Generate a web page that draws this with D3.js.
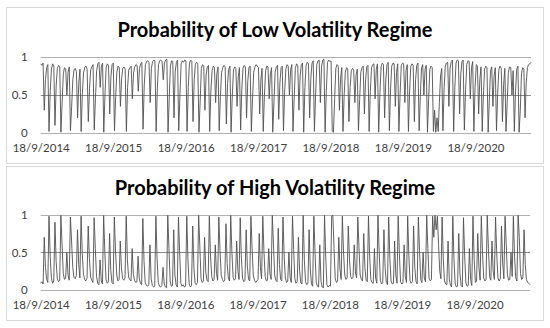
<!DOCTYPE html>
<html><head><meta charset="utf-8">
<script src="https://cdn.jsdelivr.net/npm/d3@7"></script>
<style>body{margin:0;background:#fff}svg{display:block}</style>
</head><body>
<script>
const startDate = "2014-09-18";
const stepDays = 6;
const titles = ["Probability of Low Volatility Regime", "Probability of High Volatility Regime"];
const xTickLabels = ["18/9/2014","18/9/2015","18/9/2016","18/9/2017","18/9/2018","18/9/2019","18/9/2020"];
const yTicks = [0, 0.5, 1];
const lowProb = [
.91,.89,.92,.30,.70,.86,.90,.02,.55,.84,.91,.88,.10,.62,.85,.89,.87,.01,.40,.78,.86,.84,.50,.80,.87,.03,.35,.70,.83,.85,.81,.20,.66,.84,.02,.52,.79,.86,.88,.84,.15,.58,.83,.87,.90,.04,.45,.82,.91,.93,.60,.88,.92,.01,.50,.86,.91,.89,.25,.74,.90,
.92,.03,.48,.80,.88,.86,.35,.72,.85,.87,.84,.02,.60,.83,.86,.88,.45,.79,.87,.90,.89,.55,.85,.91,.93,.05,.62,.90,.94,.95,.93,.40,.85,.94,.96,.95,.02,.58,.90,.95,.96,.94,.70,.92,.96,.97,.01,.45,.88,.95,.94,.20,.80,.93,.96,.03,.50,.91,.95,.93,.96,
.95,.02,.60,.92,.96,.94,.15,.70,.91,.93,.90,.01,.42,.85,.90,.88,.30,.76,.87,.89,.02,.55,.82,.88,.86,.40,.78,.87,.03,.48,.80,.86,.89,.87,.12,.65,.84,.88,.01,.50,.83,.87,.85,.35,.74,.86,.04,.58,.85,.89,.87,.20,.68,.86,.88,.02,.45,.80,.87,.90,.88,
.86,.25,.70,.85,.02,.50,.82,.88,.87,.45,.78,.86,.01,.40,.80,.87,.89,.18,.66,.86,.88,.03,.55,.84,.90,.88,.50,.83,.90,.02,.46,.85,.91,.89,.30,.75,.90,.92,.01,.60,.89,.93,.91,.20,.72,.92,.95,.02,.50,.90,.95,.96,.40,.88,.96,.97,.01,.55,.93,.96,.94,
.95,.02,.01,.45,.85,.90,.88,.30,.72,.86,.02,.50,.80,.86,.84,.15,.60,.82,.85,.83,.40,.76,.84,.03,.44,.80,.86,.88,.25,.70,.87,.89,.02,.55,.86,.90,.91,.45,.84,.91,.01,.50,.87,.92,.90,.20,.70,.90,.93,.03,.58,.88,.92,.91,.35,.80,.91,.02,.52,.89,.92,
.91,.40,.82,.90,.02,.55,.88,.91,.89,.15,.70,.89,.92,.03,.48,.86,.90,.50,.84,.89,.01,.45,.84,.88,.86,.02,.30,.01,.20,.02,.40,.75,.85,.03,.60,.88,.92,.93,.35,.85,.94,.96,.02,.60,.92,.96,.95,.25,.78,.94,.96,.04,.55,.90,.95,.94,.45,.86,.94,.02,.60,
.90,.88,.25,.70,.87,.02,.50,.84,.88,.86,.01,.45,.82,.87,.35,.75,.86,.03,.52,.84,.88,.85,.15,.64,.85,.02,.40,.80,.87,.86,.50,.82,.02,.55,.84,.88,.01,.30,.78,.86,.84,.20,.66,.86,.90,.91,.93
];
const highProb = [
.09,.11,.08,.70,.30,.14,.10,.98,.45,.16,.09,.12,.90,.38,.15,.11,.13,.99,.60,.22,.14,.16,.50,.20,.13,.97,.65,.30,.17,.15,.19,.80,.34,.16,.98,.48,.21,.14,.12,.16,.85,.42,.17,.13,.10,.96,.55,.18,.09,.07,.40,.12,.08,.99,.50,.14,.09,.11,.75,.26,.10,
.08,.97,.52,.20,.12,.14,.65,.28,.15,.13,.16,.98,.40,.17,.14,.12,.55,.21,.13,.10,.11,.45,.15,.09,.07,.95,.38,.10,.06,.05,.07,.60,.15,.06,.04,.05,.98,.42,.10,.05,.04,.06,.30,.08,.04,.03,.99,.55,.12,.05,.06,.80,.20,.07,.04,.97,.50,.09,.05,.07,.04,
.05,.98,.40,.08,.04,.06,.85,.30,.09,.07,.10,.99,.58,.15,.10,.12,.70,.24,.13,.11,.98,.45,.18,.12,.14,.60,.22,.13,.97,.52,.20,.14,.11,.13,.88,.35,.16,.12,.99,.50,.17,.13,.15,.65,.26,.14,.96,.42,.15,.11,.13,.80,.32,.14,.12,.98,.55,.20,.13,.10,.12,
.14,.75,.30,.15,.98,.50,.18,.12,.13,.55,.22,.14,.99,.60,.20,.13,.11,.82,.34,.14,.12,.97,.45,.16,.10,.12,.50,.17,.10,.98,.54,.15,.09,.11,.70,.25,.10,.08,.99,.40,.11,.07,.09,.80,.28,.08,.05,.98,.50,.10,.05,.04,.60,.12,.04,.03,.99,.45,.07,.04,.06,
.05,.98,.99,.55,.15,.10,.12,.70,.28,.14,.98,.50,.20,.14,.16,.85,.40,.18,.15,.17,.60,.24,.16,.97,.56,.20,.14,.12,.75,.30,.13,.11,.98,.45,.14,.10,.09,.55,.16,.09,.99,.50,.13,.08,.10,.80,.30,.10,.07,.97,.42,.12,.08,.09,.65,.20,.09,.98,.48,.11,.08,
.09,.60,.18,.10,.98,.45,.12,.09,.11,.85,.30,.11,.08,.97,.52,.14,.10,.50,.16,.11,.99,.55,.16,.12,.14,.98,.70,.99,.80,.98,.60,.25,.15,.97,.40,.12,.08,.07,.65,.15,.06,.04,.98,.40,.08,.04,.05,.75,.22,.06,.04,.96,.45,.10,.05,.06,.55,.14,.06,.98,.40,
.10,.12,.75,.30,.13,.98,.50,.16,.12,.14,.99,.55,.18,.13,.65,.25,.14,.97,.48,.16,.12,.15,.85,.36,.15,.98,.60,.20,.13,.14,.50,.18,.98,.45,.16,.12,.99,.70,.22,.14,.16,.80,.34,.14,.10,.09,.07
];

const W = 550, H = 328;
const svg = d3.select("body").append("svg").attr("width", W).attr("height", H);
svg.append("rect").attr("width", W).attr("height", H).attr("fill", "#fff");

const parseLabel = d3.timeParse("%d/%m/%Y");
const t0 = d3.timeParse("%Y-%m-%d")(startDate);
const tickDates = xTickLabels.map(parseLabel);
const FONT = "Lato, 'Open Sans', sans-serif";

const panels = [
  {series: lowProb, title: titles[0], box: [6.5, 7.5, 537, 156], plot: {l: 40.7, r: 531, t: 57, b: 133}, titleY: 37, labY: 153},
  {series: highProb, title: titles[1], box: [6.5, 166.5, 537, 154], plot: {l: 40.7, r: 530, t: 214.7, b: 290}, titleY: 194.5, labY: 310}
];

panels.forEach(p => {
  svg.append("rect").attr("x", p.box[0]).attr("y", p.box[1]).attr("width", p.box[2]).attr("height", p.box[3])
    .attr("fill", "none").attr("stroke", "#d9d9d9").attr("stroke-width", 1);
  svg.append("text").attr("x", 275).attr("y", p.titleY).attr("text-anchor", "middle")
    .attr("font-family", FONT).attr("font-weight", "bold").attr("font-size", 20)
    .attr("fill", "#000").text(p.title);

  const data = p.series.map((v, i) => ({date: d3.timeDay.offset(t0, i * stepDays), v}));
  const x = d3.scaleTime().domain(d3.extent(data, d => d.date)).range([p.plot.l, p.plot.r]);
  const y = d3.scaleLinear().domain([0, 1]).range([p.plot.b, p.plot.t]);

  svg.append("g").selectAll("line").data(yTicks).join("line")
    .attr("x1", p.plot.l).attr("x2", p.plot.r)
    .attr("y1", d => Math.round(y(d)) + 0.5).attr("y2", d => Math.round(y(d)) + 0.5)
    .attr("stroke", d => d === 0.5 ? "#8c8c8c" : "#b0b0b0").attr("stroke-width", 1);

  const line = d3.line().x(d => x(d.date)).y(d => y(d.v));
  svg.append("path").datum(data).attr("d", line)
    .attr("fill", "none").attr("stroke", "#505050").attr("stroke-width", 0.9).attr("stroke-linejoin", "round");

  const yAxis = svg.append("g").attr("transform", `translate(${p.plot.l - 13},0)`)
    .call(d3.axisLeft(y).tickValues(yTicks).tickSize(0).tickPadding(0).tickFormat(d => d === 0.5 ? "0.5" : String(d)));
  yAxis.select(".domain").remove();
  yAxis.selectAll("text").attr("font-family", FONT).attr("font-size", 11.5).attr("fill", "#404040");

  const xAxis = svg.append("g").attr("transform", `translate(0,${p.labY - 9})`)
    .call(d3.axisBottom(x).tickValues(tickDates).tickSize(0).tickPadding(0).tickFormat((d, i) => xTickLabels[i]));
  xAxis.select(".domain").remove();
  xAxis.selectAll("text").attr("font-family", FONT).attr("font-size", 11.5).attr("fill", "#404040");
});
</script>
</body></html>
